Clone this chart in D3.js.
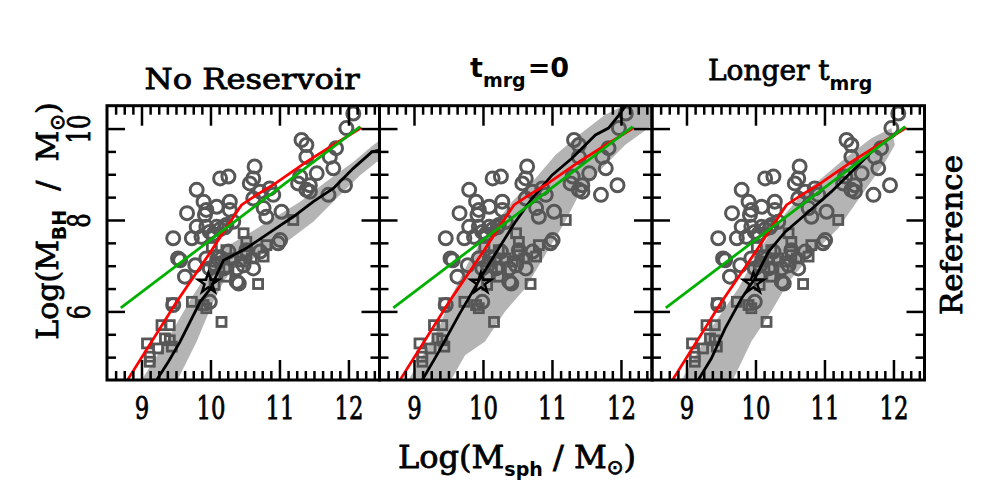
<!DOCTYPE html>
<html>
<head>
<meta charset="utf-8">
<script src="https://cdn.jsdelivr.net/npm/d3@7"></script>
<style>
  body { margin: 0; background: #fff; }
  svg text { font-family: "DejaVu Serif", serif; }
  .heavy { stroke: #000; stroke-width: 0.8px; }
</style>
</head>
<body>
<div id="chart"></div>
<script>
// ---- data ----
const xTicks = [9, 10, 11, 12];
const yTicks = [6, 8, 10];

// observed galaxies: same in every panel
const circles = [
  [12.07, 10.33], [11.97, 10.01], [11.32, 9.75], [11.39, 9.64], [11.82, 9.57], [11.73, 9.38],
  [11.39, 9.38], [10.64, 9.17], [10.14, 8.91], [10.26, 8.95], [10.62, 8.91], [10.57, 8.80],
  [11.54, 9.02], [11.30, 8.95], [11.27, 8.80], [11.44, 8.76], [11.39, 8.66], [11.44, 8.62],
  [11.78, 9.13], [11.95, 8.76], [11.71, 8.55], [9.80, 8.66], [9.90, 8.40], [10.09, 8.29],
  [10.28, 8.40], [10.28, 8.22], [9.94, 8.22], [9.92, 8.11], [9.66, 8.15], [10.72, 8.62],
  [10.86, 8.69], [10.91, 8.55], [10.62, 8.47], [10.77, 8.26], [10.81, 8.07], [11.03, 8.18],
  [9.80, 7.85], [9.94, 7.85], [10.09, 7.85], [9.99, 7.74], [10.23, 7.89], [10.33, 7.96],
  [9.46, 7.60], [9.73, 7.60], [9.87, 7.63], [11.01, 7.56], [10.98, 7.49], [9.53, 7.16],
  [9.56, 7.12], [9.63, 6.76], [9.78, 7.01], [9.94, 7.16], [9.99, 6.94], [10.07, 7.01],
  [10.19, 6.94], [10.38, 6.94], [10.48, 7.01], [10.62, 6.94], [10.38, 6.65], [10.41, 6.61],
  [9.99, 6.21], [9.46, 6.14], [10.16, 7.16], [10.26, 7.31], [10.52, 7.34], [10.72, 7.31],
  [10.14, 7.80], [10.21, 7.84], [10.04, 7.69]
];
const squares = [
  [11.20, 8.00], [10.48, 7.71], [10.52, 7.52], [10.81, 7.45], [10.77, 7.20], [10.51, 7.31],
  [10.23, 7.34], [10.11, 7.23], [10.07, 7.09], [10.26, 6.94], [10.23, 6.76], [10.06, 6.58],
  [10.69, 6.60], [9.73, 6.21], [9.44, 6.18], [9.90, 6.14], [9.94, 6.07], [10.16, 5.77],
  [9.29, 5.70], [9.41, 5.70], [9.34, 5.41], [9.41, 5.37], [9.44, 5.23], [9.08, 5.30],
  [9.24, 5.19], [9.12, 5.01], [9.12, 4.90], [10.02, 7.41], [10.33, 7.16], [10.43, 7.09],
  [10.60, 7.16], [10.52, 7.23], [10.07, 6.80]
];
const starPoint = [9.97, 6.62];

// fits, same in every panel
const greenLine = [[8.70, 6.08], [12.17, 10.04]];
const redLine = [
  [8.77, 4.42], [8.81, 4.53], [9.51, 6.21], [10.00, 7.30], [10.19, 7.74], [10.40, 8.22],
  [10.45, 8.33], [10.67, 8.55], [10.91, 8.77], [11.39, 9.27], [11.78, 9.64], [12.19, 10.02]
];

// model medians and spread, one per panel
const panelTitles = ["No Reservoir", "t_mrg=0", "Longer t_mrg"];
const blackLines = [
  [[9.18, 4.40], [9.22, 4.50], [9.39, 4.90], [9.56, 5.34], [9.85, 6.21], [10.00, 6.50], [10.11, 6.87],
   [10.19, 7.12], [10.52, 7.38], [10.91, 7.78], [11.20, 8.07], [11.49, 8.40], [11.78, 8.69],
   [12.07, 9.13], [12.34, 9.49], [12.45, 9.53]],
  [[9.08, 4.40], [9.12, 4.50], [9.36, 5.12], [9.65, 5.92], [9.99, 6.80], [10.23, 7.38], [10.47, 7.96],
   [10.71, 8.47], [11.00, 8.98], [11.29, 9.35], [11.63, 9.86], [11.82, 10.01], [11.99, 10.33],
   [12.09, 10.55]],
  [[9.13, 4.40], [9.17, 4.50], [9.36, 4.97], [9.56, 5.63], [9.80, 6.29], [9.99, 6.72], [10.19, 7.31],
   [10.43, 7.74], [10.77, 8.18], [11.10, 8.62], [11.49, 9.20], [11.78, 9.64], [12.02, 9.86]]
];
const bandUpper = [
  [[9.00, 4.40], [9.00, 4.50], [9.36, 5.34], [9.75, 6.36], [10.00, 6.94], [10.19, 7.38], [10.52, 7.67],
   [10.91, 8.04], [11.30, 8.40], [11.68, 8.84], [12.07, 9.27], [12.36, 9.64], [12.46, 9.75]],
  [[8.90, 4.40], [8.92, 4.50], [9.36, 5.64], [9.55, 6.36], [9.84, 7.23], [10.13, 7.82], [10.42, 8.40],
   [10.76, 8.91], [11.05, 9.42], [11.39, 9.86], [11.77, 10.30], [12.06, 10.52], [12.46, 10.52]],
  [[8.90, 4.40], [8.93, 4.50], [9.36, 5.64], [9.75, 6.50], [10.04, 7.31], [10.33, 7.96], [10.67, 8.55],
   [11.01, 8.98], [11.30, 9.35], [11.68, 9.79], [11.97, 10.01]]
];
const bandLower = [
  [[9.49, 4.40], [9.80, 5.34], [10.04, 6.21], [10.19, 6.65], [10.33, 6.94], [10.72, 7.23], [11.10, 7.52],
   [11.49, 7.96], [11.88, 8.55], [12.17, 8.98], [12.41, 9.27], [12.46, 9.30]],
  [[9.50, 4.40], [9.74, 5.04], [10.03, 5.34], [10.32, 6.00], [10.61, 6.50], [10.90, 7.23], [11.19, 7.96],
   [11.39, 8.55], [11.68, 9.06], [12.06, 9.64], [12.46, 10.08]],
  [[9.64, 4.40], [9.94, 5.34], [10.23, 6.00], [10.48, 6.65], [10.81, 7.23], [11.20, 7.82], [11.54, 8.55],
   [11.88, 9.27], [12.02, 9.64]]
];

// ---- layout ----
const width = 981, height = 485;
const plotLeft = 107, plotTop = 105.7, panelW = 272.5, panelH = 274.3;

const svg = d3.select("#chart").append("svg")
  .attr("width", width)
  .attr("height", height);

const x = d3.scaleLinear().domain([8.5, 12.45]).range([0, panelW]);
const y = d3.scaleLinear().domain([4.5, 10.5]).range([panelH, 0]);

const xMinor = d3.range(69, 100).map(i => i / 8).filter(v => v % 1 !== 0);
const yMinor = d3.range(10, 21).map(i => i / 2).filter(v => v % 2 !== 0);

const line = d3.line().x(d => x(d[0])).y(d => y(d[1]));

panelTitles.forEach((title, p) => {
  const g = svg.append("g")
    .attr("transform", "translate(" + (plotLeft + p * panelW) + "," + plotTop + ")");

  g.append("clipPath").attr("id", "clip" + p)
    .append("rect").attr("width", panelW).attr("height", panelH);

  const plot = g.append("g").attr("clip-path", "url(#clip" + p + ")");

  // grey spread of the model
  const band = bandUpper[p].concat(bandLower[p].slice().reverse());
  plot.append("path")
    .attr("d", line(band) + "Z")
    .attr("fill", "#b4b4b4");

  plot.selectAll("circle.obs")
    .data(circles)
    .enter().append("circle")
    .attr("class", "obs")
    .attr("cx", d => x(d[0]))
    .attr("cy", d => y(d[1]))
    .attr("r", 6.5)
    .attr("fill", "none")
    .attr("stroke", "#575757")
    .attr("stroke-width", 3);

  plot.selectAll("rect.obs")
    .data(squares)
    .enter().append("rect")
    .attr("class", "obs")
    .attr("x", d => x(d[0]) - 4.5)
    .attr("y", d => y(d[1]) - 4.5)
    .attr("width", 9)
    .attr("height", 9)
    .attr("fill", "none")
    .attr("stroke", "#575757")
    .attr("stroke-width", 2.8);

  plot.append("path")
    .attr("d", line(blackLines[p]))
    .attr("fill", "none")
    .attr("stroke", "#000")
    .attr("stroke-width", 2.8);

  plot.append("path")
    .attr("d", line(redLine))
    .attr("fill", "none")
    .attr("stroke", "#ff0000")
    .attr("stroke-width", 2.8);

  plot.append("path")
    .attr("d", line(greenLine))
    .attr("fill", "none")
    .attr("stroke", "#00b000")
    .attr("stroke-width", 2.8);

  plot.append("path")
    .attr("d", d3.symbol().type(d3.symbolStar).size(130)())
    .attr("transform", "translate(" + x(starPoint[0]) + "," + y(starPoint[1]) + ")")
    .attr("fill", "none")
    .attr("stroke", "#000")
    .attr("stroke-width", 2.5);

  // ticks on all four sides, pointing in
  const tickAxes = [
    [d3.axisBottom(x), "translate(0," + panelH + ")", xMinor, xTicks, 9, 20],
    [d3.axisTop(x), null, xMinor, xTicks, 9, 20],
    [d3.axisLeft(y), null, yMinor, yTicks, 9, 18],
    [d3.axisRight(y), "translate(" + panelW + ",0)", yMinor, yTicks, 9, 18]
  ];
  tickAxes.forEach(([axis, tr, minor, major, minLen, majLen]) => {
    [[minor, minLen], [major, majLen]].forEach(([vals, len]) => {
      const a = g.append("g")
        .call(axis.tickValues(vals).tickSize(-len).tickFormat(""));
      if (tr) a.attr("transform", tr);
      a.select(".domain").remove();
      a.selectAll("line").attr("stroke", "#000").attr("stroke-width", 2.5);
    });
  });

  g.append("rect")
    .attr("width", panelW)
    .attr("height", panelH)
    .attr("fill", "none")
    .attr("stroke", "#000")
    .attr("stroke-width", 3);

  // x tick labels
  const xl = g.append("g")
    .attr("transform", "translate(0," + panelH + ")")
    .call(d3.axisBottom(x).tickValues(xTicks).tickSize(0).tickFormat(d3.format("d")));
  xl.select(".domain").remove();
  xl.selectAll("text")
    .attr("class", "heavy")
    .attr("y", 39)
    .attr("dy", null)
    .attr("fill", "#000")
    .style("font-family", "DejaVu Serif")
    .style("font-size", "31px")
    .attr("textLength", d => String(d).length * 14.5)
    .attr("lengthAdjust", "spacingAndGlyphs");

  if (p === 0) {
    const yl = g.append("g")
      .call(d3.axisLeft(y).tickValues(yTicks).tickSize(0).tickFormat(d3.format("d")));
    yl.select(".domain").remove();
    yl.selectAll("text")
      .attr("class", "heavy")
      .attr("x", null).attr("dy", null)
      .attr("text-anchor", "middle")
      .attr("transform", "translate(-17,0) rotate(-90)")
      .attr("fill", "#000")
      .style("font-family", "DejaVu Serif")
      .style("font-size", "31px")
      .attr("textLength", d => String(d).length * 14.5)
      .attr("lengthAdjust", "spacingAndGlyphs");
  }
});

// ---- text ----
function sub(t, txt, dy, size) {
  t.append("tspan").attr("dy", dy)
    .style("font-family", "DejaVu Sans").style("font-weight", "bold")
    .style("stroke-width", 0)
    .style("font-size", size + "px").text(txt);
}

// panel titles
svg.append("text")
  .attr("class", "heavy")
  .attr("x", 252).attr("y", 89)
  .attr("text-anchor", "middle")
  .style("font-size", "28px")
  .attr("textLength", 215).attr("lengthAdjust", "spacingAndGlyphs")
  .text("No Reservoir");

const t2 = svg.append("text")
  .attr("x", 470).attr("y", 77)
  .style("font-family", "DejaVu Sans").style("font-weight", "bold")
  .style("font-size", "27px");
t2.append("tspan").text("t");
sub(t2, "mrg", 10, 19);
t2.append("tspan").attr("dy", -10).attr("dx", 2).text("=0");

const t3 = svg.append("text")
  .attr("class", "heavy")
  .attr("x", 708).attr("y", 80)
  .style("font-size", "28px");
t3.append("tspan").text("Longer  t");
sub(t3, "mrg", 10, 19);

// axis titles
const xt = svg.append("text")
  .attr("class", "heavy")
  .attr("x", 517).attr("y", 468)
  .attr("text-anchor", "middle")
  .style("font-size", "32px");
xt.append("tspan").text("Log(M");
sub(xt, "sph", 8, 19);
xt.append("tspan").attr("dy", -8).text(" / M");
xt.append("tspan").attr("dy", 6).style("font-family", "DejaVu Sans").style("font-size", "20px").text("\u2299");
xt.append("tspan").attr("dy", -6).text(")");

const yt = svg.append("text")
  .attr("class", "heavy")
  .attr("transform", "translate(58,221) rotate(-90)")
  .attr("text-anchor", "middle")
  .style("font-size", "30px")
  .style("white-space", "pre");
yt.append("tspan").text("Log(M");
sub(yt, "BH", 8, 19);
yt.append("tspan").attr("dy", -8).text("  /  M");
yt.append("tspan").attr("dy", 6).style("font-family", "DejaVu Sans").style("font-size", "20px").text("\u2299");
yt.append("tspan").attr("dy", -6).text(")");

svg.append("text")
  .attr("class", "heavy")
  .attr("transform", "translate(962,235) rotate(-90)")
  .attr("text-anchor", "middle")
  .style("font-size", "29px")
  .attr("textLength", 160).attr("lengthAdjust", "spacingAndGlyphs")
  .text("Reference");
</script>
</body>
</html>
